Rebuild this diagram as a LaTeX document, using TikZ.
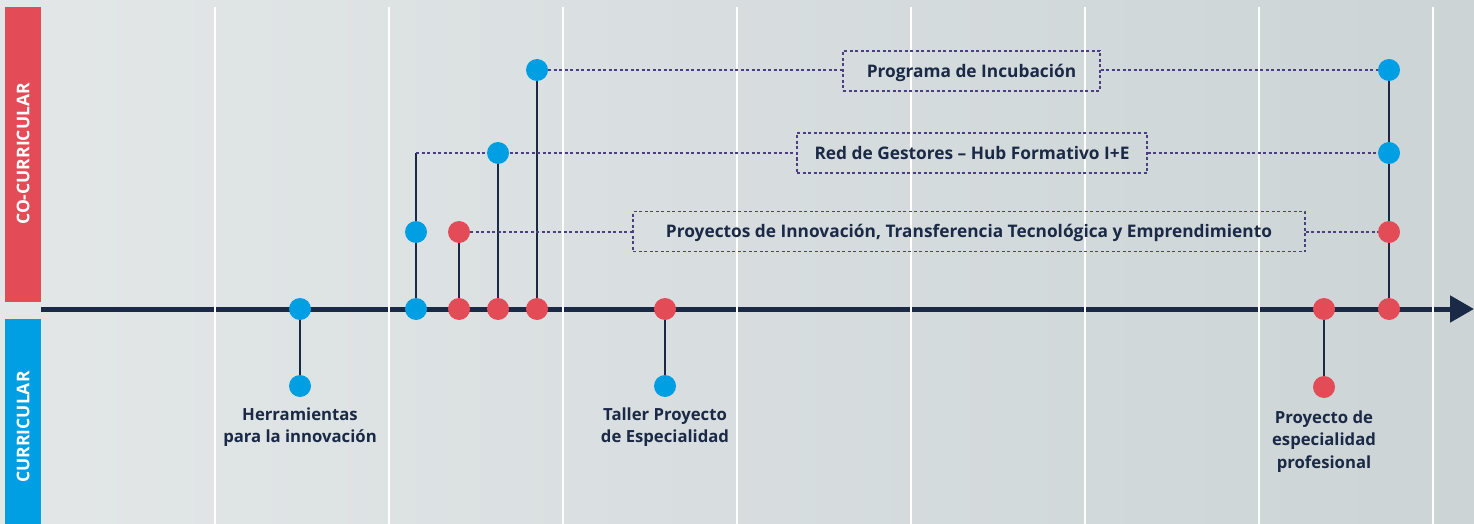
\documentclass[tikz,border=0pt]{standalone}
\usepackage{fontspec}
\setmainfont{Open Sans}
\usetikzlibrary{arrows.meta,positioning}
\definecolor{navy}{HTML}{1A2946}
\definecolor{dotblue}{HTML}{009FE3}
\definecolor{dotred}{HTML}{E34B56}
\definecolor{dashpurple}{HTML}{4B3F82}
\definecolor{bgleft}{HTML}{E3E7E8}
\definecolor{bgright}{HTML}{CCD4D6}
\pgfdeclarelayer{bg}
\pgfdeclarelayer{lines}
\pgfsetlayers{bg,lines,main}

\begin{document}
\begin{tikzpicture}
	[x=1pt,y=-1pt,
	 bdot/.style={circle,fill=dotblue,inner sep=0pt,minimum size=22pt},
	 rdot/.style={circle,fill=dotred,inner sep=0pt,minimum size=22pt},
	 stem/.style={navy,line width=2.2pt},
	 link/.style={dashpurple,line width=1.2pt,dash pattern=on 3pt off 2.5pt},
	 tagbox/.style={draw=dashpurple,line width=1.1pt,dash pattern=on 3pt off 2.5pt,
	   minimum height=40pt,inner sep=0pt,text height=12.3pt,text depth=0pt,
	   text=navy,font=\bfseries\fontsize{17.3}{20}\selectfont},
	 lbl/.style={align=center,inner sep=0pt,text=navy,font=\bfseries\fontsize{16.7}{22.5}\selectfont},
	 sidelbl/.style={rotate=90,text=white,font=\bfseries\fontsize{17.5}{20}\selectfont}]
\useasboundingbox (0,0) rectangle (1474,524);
% background and side bars
\begin{pgfonlayer}{bg}
\shade[left color=bgleft,right color=bgright] (0,0) rectangle (1474,524);
\fill[dotred] (5,7) rectangle (41,302);
\fill[dotblue] (5,319) rectangle (41,524);
\end{pgfonlayer}
\node[sidelbl] (cocur) at (23,154) {CO-CURRICULAR};
\node[sidelbl] (cur) at (23,427) {CURRICULAR};
% time axis
\coordinate (axstart) at (41,309);
\coordinate (axend) at (1474,309);
\begin{pgfonlayer}{bg}
\draw[navy,line width=5pt,-{Triangle[length=24pt,width=26pt]}] (axstart) -- (axend);
\foreach \x in {215,389,...,1433}
\draw[white,line width=1.3pt] (\x,7) -- (\x,524);
\end{pgfonlayer}
% events
\node[bdot] (h1) at (300,309) {};
\node[bdot] (h2) at (300,386) {};
\node[bdot] (g1) at (416,309) {};
\node[bdot] (g2) at (416,232) {};
\coordinate (gcorner) at (416,153);
\node[rdot] (p1) at (459,309) {};
\node[rdot] (p2) at (459,232) {};
\node[rdot] (r1) at (498,309) {};
\node[bdot] (r2) at (498,153) {};
\node[rdot] (i1) at (537,309) {};
\node[bdot] (i2) at (537,70) {};
\node[rdot] (t1) at (665,309) {};
\node[bdot] (t2) at (665,386) {};
\node[rdot] (e1) at (1324,309) {};
\node[rdot] (e2) at (1324,387) {};
\node[rdot] (f1) at (1389,309) {};
\node[rdot] (f2) at (1389,232) {};
\node[bdot] (f3) at (1389,153) {};
\node[bdot] (f4) at (1389,70) {};
% programmes
\node[tagbox,minimum width=257pt] (incub) at (971.5,71) {Programa de Incubación};
\node[tagbox,minimum width=350pt] (redg) at (972,153) {Red de Gestores – Hub Formativo I+E};
\node[tagbox,minimum width=672pt] (proy) at (969,231.5)
  {Proyectos de Innovación, Transferencia Tecnológica y Emprendimiento};
% labels
\node[lbl,below=10pt of h2] (hlbl) {Herramientas\\para la innovación};
\node[lbl,below=10pt of t2] (tlbl) {Taller Proyecto\\de Especialidad};
\node[lbl,below=12pt of e2] (elbl) {Proyecto de\\especialidad\\profesional};
\begin{pgfonlayer}{lines}
\foreach \a/\b in {h1/h2,g1/g2,p1/p2,r1/r2,i1/i2,t1/t2,e1/e2,f1/f2,f2/f3,f3/f4}
\draw[stem] (\a) -- (\b);
\draw[stem] (g2) -- (gcorner);
\draw[link] (gcorner) -- (gcorner -| redg.west);
\draw[link] (redg.east |- f3) -- (f3);
\draw[link] (p2) -- (p2 -| proy.west);
\draw[link] (proy.east |- f2) -- (f2);
\draw[link] (i2) -- (i2 -| incub.west);
\draw[link] (incub.east |- f4) -- (f4);
\end{pgfonlayer}
\end{tikzpicture}
\end{document}
